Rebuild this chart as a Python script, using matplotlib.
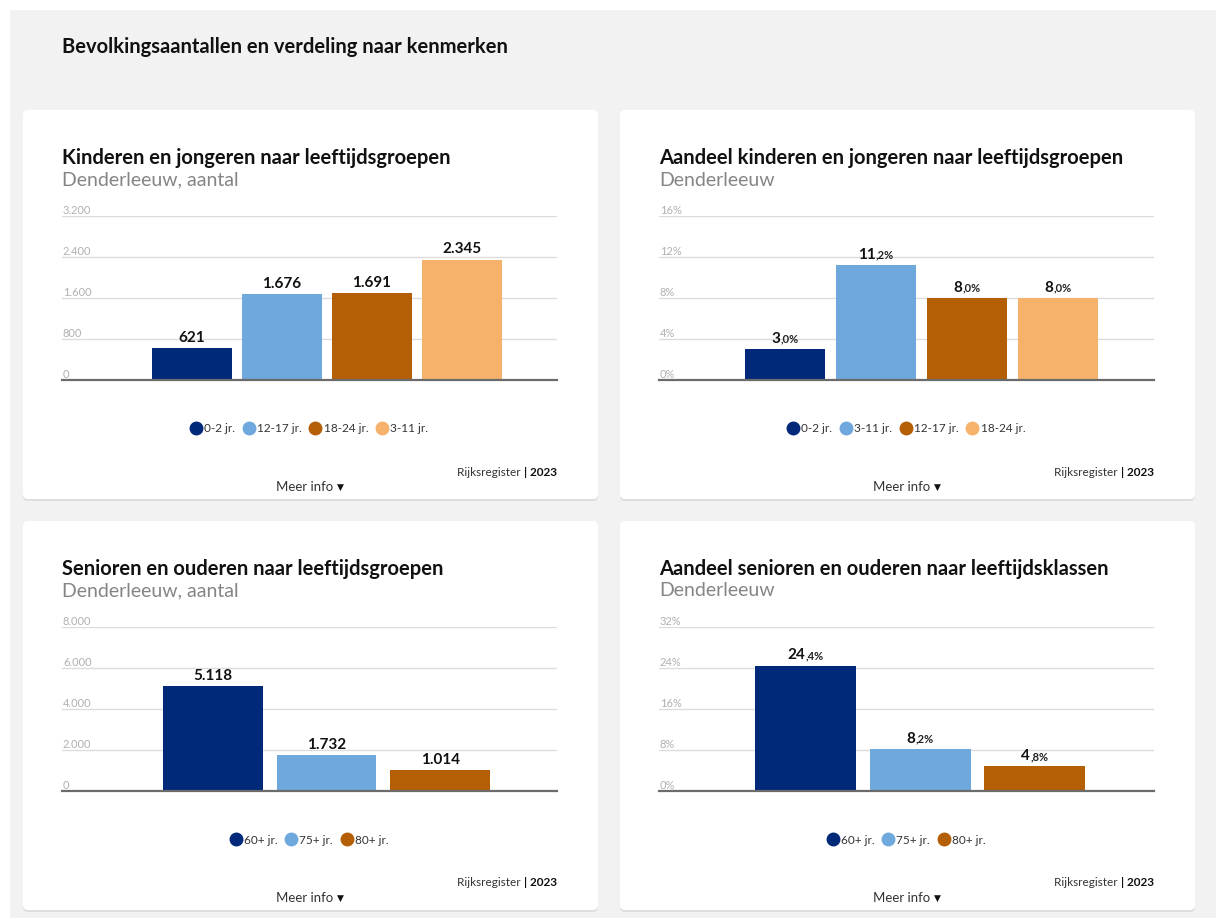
import matplotlib.pyplot as plt
from matplotlib.patches import FancyBboxPatch, Rectangle
from matplotlib.lines import Line2D
from matplotlib.offsetbox import TextArea, HPacker, AnnotationBbox

plt.rcParams['font.family'] = ['Lato', 'DejaVu Sans']

# data
kids_cats = ['0-2 jr.', '12-17 jr.', '18-24 jr.', '3-11 jr.']
kids_vals = [621, 1676, 1691, 2345]
kids_pct_cats = ['0-2 jr.', '3-11 jr.', '12-17 jr.', '18-24 jr.']
kids_pct_vals = [3.0, 11.2, 8.0, 8.0]
sen_cats = ['60+ jr.', '75+ jr.', '80+ jr.']
sen_vals = [5118, 1732, 1014]
sen_pct_cats = ['60+ jr.', '75+ jr.', '80+ jr.']
sen_pct_vals = [24.4, 8.2, 4.8]

colors = ['#00297a', '#6fa8dc', '#b45f06', '#f6b26b']

W, H = 1216, 918
fig = plt.figure(figsize=(W / 100, H / 100), dpi=100, facecolor='white')
bg = fig.add_axes([0, 0, 1, 1])
bg.set_xlim(0, W)
bg.set_ylim(H, 0)
bg.axis('off')
bg.add_patch(Rectangle((10, 10), W - 10, H - 10, color='#f2f2f2', lw=0))
bg.text(62, 47, 'Bevolkingsaantallen en verdeling naar kenmerken', fontsize=14.5,
        fontweight='bold', color='#111111', va='center', ha='left')


def nl_int(v):
    return f'{v:,}'.replace(',', '.')


def value_box(v, pct):
    if not pct:
        return TextArea(nl_int(v), textprops=dict(fontsize=11, fontweight='bold', color='#111111'))
    whole, dec = f'{v:.1f}'.split('.')
    a = TextArea(whole, textprops=dict(fontsize=11, fontweight='bold', color='#111111'))
    b = TextArea(',' + dec + '%', textprops=dict(fontsize=8, fontweight='bold', color='#222222'))
    return HPacker(children=[a, b], align='baseline', pad=0, sep=0)


def panel(x0, y0, title, subtitle, cats, vals, ticks, pct, xlim, width):
    cw, ch = 575, 389
    bg.add_patch(FancyBboxPatch((x0, y0 + 2), cw, ch, boxstyle='round,pad=0,rounding_size=5',
                                fc='#d6d6d6', ec='none', alpha=0.7))
    bg.add_patch(FancyBboxPatch((x0, y0), cw, ch, boxstyle='round,pad=0,rounding_size=5',
                                fc='white', ec='none'))
    bg.text(x0 + 39, y0 + 48, title, fontsize=14.5, fontweight='bold', color='#111111',
            va='center', ha='left')
    bg.text(x0 + 39, y0 + 70, subtitle, fontsize=14, fontweight='normal', color='#858585',
            va='center', ha='left')

    top, base = y0 + 106, y0 + 270
    ax = fig.add_axes([(x0 + 39) / W, 1 - base / H, 495 / W, (base - top) / H])
    ax.set_facecolor('none')
    ax.set_xlim(*xlim)
    ax.set_ylim(0, ticks[-1])
    ax.set_yticks(ticks)
    ax.grid(axis='y', color='#dcdcdc', lw=1)
    ax.set_axisbelow(True)
    ax.tick_params(length=0, labelleft=False, labelbottom=False)
    for s in ['top', 'right', 'left']:
        ax.spines[s].set_visible(False)
    ax.spines['bottom'].set_color('#6b6b6b')
    ax.spines['bottom'].set_linewidth(1.6)
    ax.set_xticks([])

    for t in ticks:
        lab = f'{t}%' if pct else nl_int(t)
        ax.text(0.002, t, lab, transform=ax.get_yaxis_transform(), va='bottom', ha='left',
                fontsize=8, color='#b0b0b0')

    xs = list(range(len(vals)))
    ax.bar(xs, vals, width=width, color=colors[:len(vals)])
    for x, v in zip(xs, vals):
        ab = AnnotationBbox(value_box(v, pct), (x, v), xybox=(0, 2.5), xycoords='data',
                            boxcoords='offset points', box_alignment=(0.5, 0), frameon=False,
                            pad=0, annotation_clip=False)
        ax.add_artist(ab)

    handles = [Line2D([], [], marker='o', ls='', markersize=9, color=c) for c in colors[:len(cats)]]
    fig.legend(handles, cats, loc='center', bbox_to_anchor=((x0 + 287) / W, 1 - (y0 + 319) / H),
               ncol=len(cats), frameon=False, handlelength=0.7, handletextpad=0.35,
               columnspacing=0.8, fontsize=8.5, labelcolor='#333333')

    src = HPacker(children=[TextArea('Rijksregister ', textprops=dict(fontsize=8.5, color='#333333')),
                            TextArea('| 2023', textprops=dict(fontsize=8.5, fontweight='bold',
                                                             color='#111111'))],
                  align='baseline', pad=0, sep=0)
    bg.add_artist(AnnotationBbox(src, (x0 + 534, y0 + 362), xycoords='data', box_alignment=(1, 0.5),
                                 frameon=False, pad=0))
    more = HPacker(children=[TextArea('Meer info ', textprops=dict(fontsize=9.5, color='#333333')),
                             TextArea('\u25BC', textprops=dict(fontsize=6.5, color='#111111'))],
                   align='center', pad=0, sep=0)
    bg.add_artist(AnnotationBbox(more, (x0 + 287, y0 + 377), xycoords='data',
                                 box_alignment=(0.5, 0.5), frameon=False, pad=0))


panel(23, 110, 'Kinderen en jongeren naar leeftijdsgroepen', 'Denderleeuw, aantal',
      kids_cats, kids_vals, [0, 800, 1600, 2400, 3200], False, (-1.444, 4.056), 0.889)
panel(620, 110, 'Aandeel kinderen en jongeren naar leeftijdsgroepen', 'Denderleeuw',
      kids_pct_cats, kids_pct_vals, [0, 4, 8, 12, 16], True, (-1.385, 4.055), 0.88)
panel(23, 521, 'Senioren en ouderen naar leeftijdsgroepen', 'Denderleeuw, aantal',
      sen_cats, sen_vals, [0, 2000, 4000, 6000, 8000], False, (-1.33, 3.03), 0.88)
panel(620, 521, 'Aandeel senioren en ouderen naar leeftijdsklassen', 'Denderleeuw',
      sen_pct_cats, sen_pct_vals, [0, 8, 16, 24, 32], True, (-1.28, 3.04), 0.88)

fig.savefig('out.png', dpi=100, facecolor=fig.get_facecolor())
